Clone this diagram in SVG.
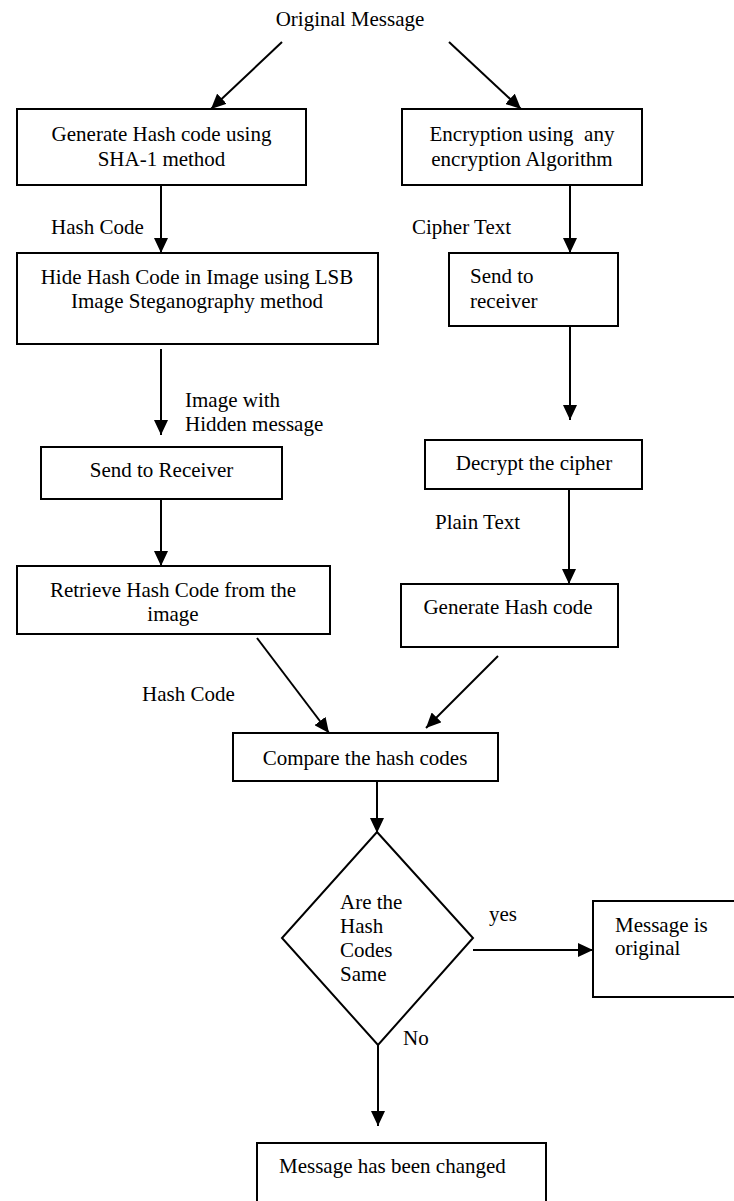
<svg xmlns="http://www.w3.org/2000/svg" width="734" height="1201" viewBox="0 0 734 1201">
<style>
text{font-family:"Liberation Serif","Times New Roman",serif;font-size:21px;fill:#000}
.c{text-anchor:middle}
.box{fill:#fff;stroke:#000;stroke-width:2}
.edge{fill:none;stroke:#000;stroke-width:2;marker-end:url(#arr)}
</style>
<defs>
<marker id="arr" markerUnits="userSpaceOnUse" markerWidth="16" markerHeight="14" refX="15" refY="7" orient="auto">
<path d="M0,0 L15,7 L0,14 z" fill="#000"/>
</marker>
</defs>
<rect width="734" height="1201" fill="#fff"/>
<g id="connectors">
<line class="edge" x1="282" y1="42" x2="211" y2="109"/>
<line class="edge" x1="449" y1="42" x2="521" y2="109"/>
<line class="edge" x1="161" y1="185" x2="161" y2="253"/>
<line class="edge" x1="570" y1="185" x2="570" y2="253"/>
<line class="edge" x1="570" y1="326" x2="570" y2="420"/>
<line class="edge" x1="161" y1="349" x2="161" y2="435"/>
<line class="edge" x1="161" y1="499" x2="161" y2="566"/>
<line class="edge" x1="569" y1="489" x2="569" y2="584"/>
<line class="edge" x1="257" y1="638" x2="329" y2="733"/>
<line class="edge" x1="498" y1="656" x2="426" y2="728"/>
<line class="edge" x1="377" y1="781" x2="377" y2="833"/>
<line class="edge" x1="473" y1="950" x2="593" y2="950"/>
<line class="edge" x1="378" y1="1045" x2="378" y2="1126"/>
<text x="51" y="234">Hash Code</text>
<text x="412" y="234">Cipher Text</text>
<text x="185" y="407">Image with</text>
<text x="185" y="431">Hidden message</text>
<text x="435" y="529">Plain Text</text>
<text x="142" y="701">Hash Code</text>
<text x="489" y="921">yes</text>
<text x="403" y="1045">No</text>
</g>
<g id="start"><text class="c" x="350" y="26">Original Message</text></g>
<g id="genhash1"><rect class="box" x="17" y="109" width="289" height="76"/><text class="c" x="161.5" y="141">Generate Hash code using</text><text class="c" x="161.5" y="166">SHA-1 method</text></g>
<g id="encrypt"><rect class="box" x="402" y="109" width="240" height="76"/><text class="c" x="522" y="141" xml:space="preserve">Encryption using  any</text><text class="c" x="522" y="166">encryption Algorithm</text></g>
<g id="hide"><rect class="box" x="17" y="253" width="361" height="91"/><text class="c" x="197" y="284">Hide Hash Code in Image using LSB</text><text class="c" x="197" y="308">Image Steganography method</text></g>
<g id="sendr"><rect class="box" x="449" y="253" width="169" height="73"/><text x="470" y="283">Send to</text><text x="470" y="308">receiver</text></g>
<g id="sendR"><rect class="box" x="41" y="447" width="241" height="52"/><text class="c" x="161.5" y="477">Send to Receiver</text></g>
<g id="decrypt"><rect class="box" x="425" y="440" width="217" height="49"/><text class="c" x="534" y="470">Decrypt the cipher</text></g>
<g id="retrieve"><rect class="box" x="17" y="566" width="313" height="68"/><text class="c" x="173" y="597">Retrieve Hash Code from the</text><text class="c" x="173" y="621">image</text></g>
<g id="genhash2"><rect class="box" x="401" y="584" width="217" height="63"/><text class="c" x="508" y="614">Generate Hash code</text></g>
<g id="compare"><rect class="box" x="233" y="733" width="265" height="48"/><text class="c" x="365" y="765">Compare the hash codes</text></g>
<g id="decision"><polygon class="box" points="377,832 473,938 378,1045 282,938"/><text x="340" y="909">Are the</text><text x="340" y="933">Hash</text><text x="340" y="957">Codes</text><text x="340" y="981">Same</text></g>
<g id="original"><rect class="box" x="593" y="901" width="150" height="96"/><text x="615" y="932">Message is</text><text x="615" y="955">original</text></g>
<g id="changed"><rect class="box" x="257" y="1143" width="289" height="70"/><text x="279" y="1173">Message has been changed</text></g>
</svg>
